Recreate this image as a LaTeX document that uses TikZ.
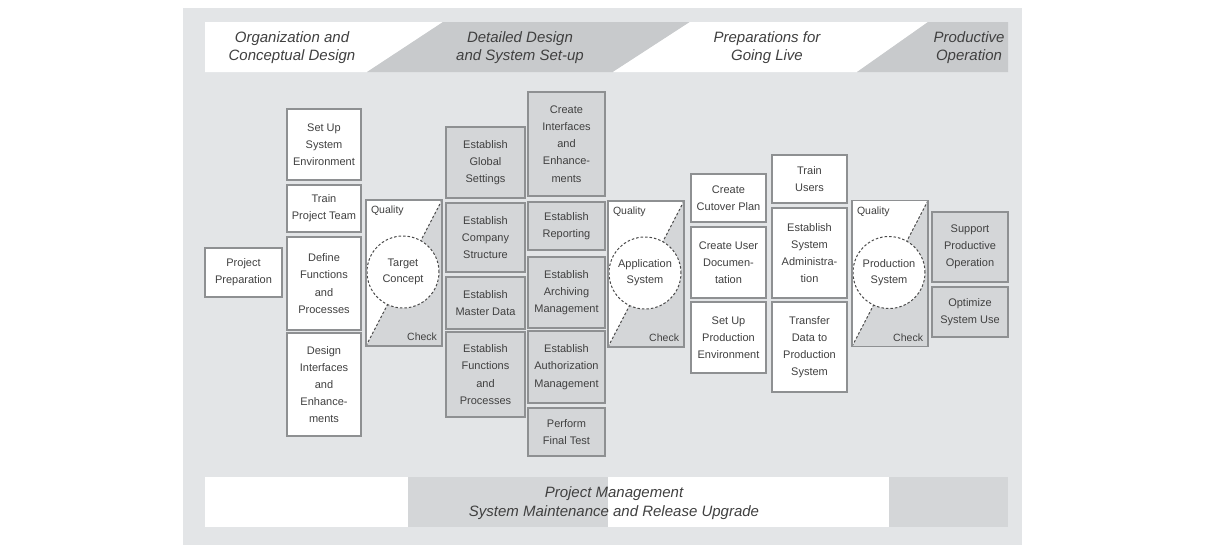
\documentclass[tikz,border=0pt]{standalone}
\usepackage{fontspec}
\setmainfont{Liberation Sans}
\definecolor{panel}{HTML}{E3E5E7}
\definecolor{boxgrey}{HTML}{D4D6D8}
\definecolor{hdrgrey}{HTML}{C8CACC}
\definecolor{bandgrey}{HTML}{D4D6D8}
\definecolor{edge}{HTML}{8E9092}
\definecolor{txt}{HTML}{404040}
\definecolor{dash}{HTML}{4A4A4A}

% one quality gate: frame, shaded half, dashed diagonal, circle and labels
\newcommand{\qgate}[4]{%
  \node[qframe] (#1) at (#2,#3) {};
  \fill[boxgrey] (#1.north east) -- (#1.south east) -- (#1.south west) -- cycle;
  \draw[qdash] (#1.north east) -- (#1.south west);
  \node[qcirc] (#1c) at ({#2-1},{#3-1}) {#4};
  \draw[edge, line width=1.3pt] (#1.north west) rectangle (#1.south east);
  \node[qlab, anchor=north west] (#1q) at ([xshift=5pt,yshift=-6pt]#1.north west) {Quality};
  \node[qlab, anchor=south east] (#1k) at ([xshift=-5pt,yshift=5pt]#1.south east) {Check};
}

\begin{document}
\begin{tikzpicture}[x=1pt,y=-1pt,
  every node/.style={inner sep=0pt, outer sep=0pt, text=txt},
  box/.style={draw=edge, line width=1.3pt, align=center,
    font=\fontsize{11}{17.2}\selectfont},
  wbox/.style={box, fill=white},
  gbox/.style={box, fill=boxgrey},
  phase/.style={align=center, font=\fontsize{15}{18.5}\selectfont\itshape},
  qframe/.style={fill=white, minimum width=76pt, minimum height=146pt},
  qdash/.style={draw=dash, line width=1pt, dash pattern=on 2.5pt off 2pt},
  qcirc/.style={circle, fill=white, draw=dash, line width=1pt,
    dash pattern=on 2.5pt off 2pt, minimum size=72pt, align=center,
    font=\fontsize{11}{16}\selectfont},
  qlab/.style={font=\fontsize{10.5}{12}\selectfont},
]
\useasboundingbox (0,0) rectangle (1205,555);
\fill[panel] (183,8) rectangle (1022,545);

% phase header
\fill[white]   (205,22) -- (443,22) -- (367,72) -- (205,72) -- cycle;
\fill[hdrgrey] (443,22) -- (690,22) -- (613,72) -- (367,72) -- cycle;
\fill[white]   (690,22) -- (928,22) -- (857,72) -- (613,72) -- cycle;
\fill[hdrgrey] (928,22) -- (1008,22) -- (1008,72) -- (857,72) -- cycle;
\node[phase] (ph1) at (292,47.5) {Organization and\\Conceptual Design};
\node[phase] (ph2) at (520,47.5) {Detailed Design\\and System Set-up};
\node[phase] (ph3) at (767,47.5) {Preparations for\\Going Live};
\node[phase] (ph4) at (969,47.5) {Productive\\Operation};

% project preparation
\node[wbox, minimum width=77pt, minimum height=49pt] (pp) at (243.5,272.5) {Project\\Preparation};

% blueprint column
\begin{scope}[every node/.append style={minimum width=74pt}]
\node[wbox, minimum height=71pt]  (a1) at (324,144.5) {Set Up\\System\\Environment};
\node[wbox, minimum height=47pt]  (a2) at (324,208.5) {Train\\Project Team};
\node[wbox, minimum height=93pt]  (a3) at (324,283.5) {Define\\Functions\\and\\Processes};
\node[wbox, minimum height=103pt] (a4) at (324,384.5) {Design\\Interfaces\\and\\Enhance-\\ments};
\end{scope}

\qgate{q1}{404}{273}{Target\\Concept}

% realization columns
\begin{scope}[every node/.append style={minimum width=79pt}]
\node[gbox, minimum height=71pt] (b1) at (485.5,162.5) {Establish\\Global\\Settings};
\node[gbox, minimum height=69pt] (b2) at (485.5,237.5) {Establish\\Company\\Structure};
\node[gbox, minimum height=52pt] (b3) at (485.5,303)   {Establish\\Master Data};
\node[gbox, minimum height=85pt] (b4) at (485.5,374.5) {Establish\\Functions\\and\\Processes};
\end{scope}
\begin{scope}[every node/.append style={minimum width=77pt}]
\node[gbox, minimum height=104pt] (c1) at (566.5,144)   {Create\\Interfaces\\and\\Enhance-\\ments};
\node[gbox, minimum height=48pt]  (c2) at (566.5,226)   {Establish\\Reporting};
\node[gbox, minimum height=71pt]  (c3) at (566.5,292.5) {Establish\\Archiving\\Management};
\node[gbox, minimum height=72pt]  (c4) at (566.5,367)   {Establish\\Authorization\\Management};
\node[gbox, minimum height=48pt]  (c5) at (566.5,432)   {Perform\\Final Test};
\end{scope}

\qgate{q2}{646}{274}{Application\\System}

% final preparation columns
\begin{scope}[every node/.append style={minimum width=75pt}]
\node[wbox, minimum height=48pt] (d1) at (728.5,198)   {Create\\Cutover Plan};
\node[wbox, minimum height=71pt] (d2) at (728.5,262.5) {Create User\\Documen-\\tation};
\node[wbox, minimum height=71pt] (d3) at (728.5,337.5) {Set Up\\Production\\Environment};
\node[wbox, minimum height=48pt] (e1) at (809.5,179)   {Train\\Users};
\node[wbox, minimum height=90pt] (e2) at (809.5,253)   {Establish\\System\\Administra-\\tion};
\node[wbox, minimum height=90pt] (e3) at (809.5,347)   {Transfer\\Data to\\Production\\System};
\end{scope}

\qgate{q3}{890}{273.5}{Production\\System}

% go-live and support
\begin{scope}[every node/.append style={minimum width=76pt}]
\node[gbox, minimum height=70pt] (f1) at (970,247) {Support\\Productive\\Operation};
\node[gbox, minimum height=50pt] (f2) at (970,312) {Optimize\\System Use};
\end{scope}

% continuous band
\fill[white]    (205,477) rectangle (408,527);
\fill[bandgrey] (408,477) rectangle (608,527);
\fill[white]    (608,477) rectangle (889,527);
\fill[bandgrey] (889,477) rectangle (1008,527);
\node[phase] (pm) at (614,503) {Project Management\\System Maintenance and Release Upgrade};
\end{tikzpicture}
\end{document}
